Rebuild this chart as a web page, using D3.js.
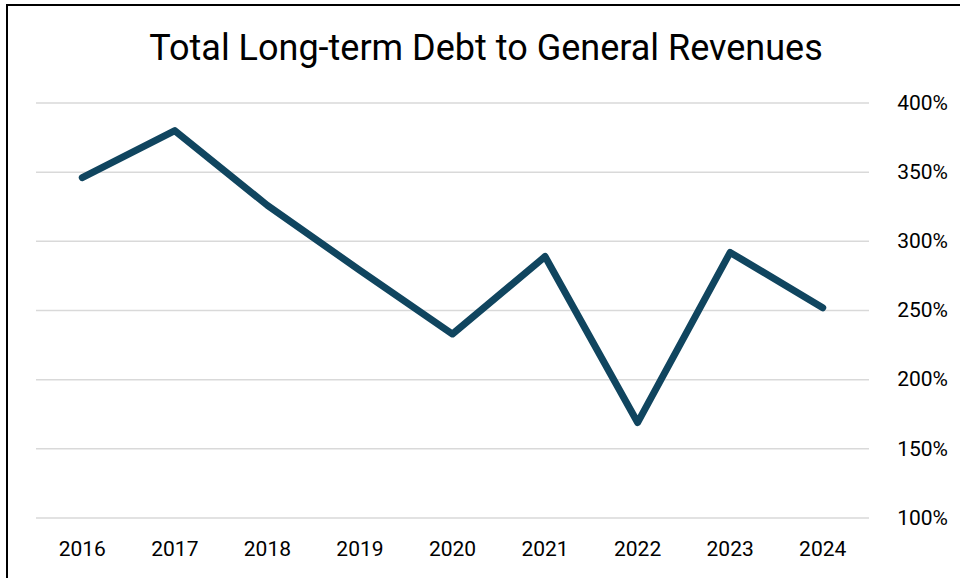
<!DOCTYPE html>
<html>
<head>
<meta charset="utf-8">
<script src="https://cdn.jsdelivr.net/npm/d3@7"></script>
<style>
  body { margin: 0; background: #fff; }
  svg { display: block; font-family: Roboto, "Liberation Sans", sans-serif; }
</style>
</head>
<body>
<div id="main"></div>
<script>
// **** data ****
var years = ["2016", "2017", "2018", "2019", "2020", "2021", "2022", "2023", "2024"];
var debtRatio = [346, 380, 326, 279, 233, 289, 169, 292, 252];
var yTicks = [100, 150, 200, 250, 300, 350, 400];
var chartTitle = "Total Long-term Debt to General Revenues";

var W = 960, H = 578;
var margin = {top: 103, right: 91, bottom: 60, left: 36};

var svg = d3.select("#main")
  .append("svg")
    .attr("width", W)
    .attr("height", H);

// outer chart frame (only left/top edges fall inside the picture)
svg.append("rect")
    .attr("x", 7).attr("y", 5)
    .attr("width", W + 20).attr("height", H + 20)
    .style("fill", "none")
    .style("stroke", "#000")
    .style("stroke-width", 2);

var x = d3.scaleBand()
    .domain(years)
    .range([margin.left, W - margin.right]);

var y = d3.scaleLinear()
    .domain([100, 400])
    .range([518, margin.top]);

// gridlines
svg.append("g")
  .selectAll("line")
  .data(yTicks)
  .enter()
  .append("line")
    .attr("x1", margin.left)
    .attr("x2", W - margin.right)
    .attr("y1", function(d) { return y(d); })
    .attr("y2", function(d) { return y(d); })
    .style("stroke", "#d9d9d9")
    .style("stroke-width", 1.5);

// y labels on the right
var yAxis = svg.append("g")
    .attr("transform", "translate(948,0)")
    .call(d3.axisRight(y).tickValues(yTicks).tickSize(0).tickPadding(0)
      .tickFormat(function(d) { return d + "%"; }));
yAxis.select(".domain").remove();
yAxis.selectAll("text")
    .attr("text-anchor", "end")
    .attr("dy", "0.3em")
    .style("font-size", "21px")
    .style("font-family", "Roboto, 'Liberation Sans', sans-serif")
    .style("fill", "#000");

// x labels
var xAxis = svg.append("g")
    .attr("transform", "translate(0,541)")
    .call(d3.axisBottom(x).tickSize(0).tickPadding(0));
xAxis.select(".domain").remove();
xAxis.selectAll("text")
    .attr("dy", "0.71em")
    .style("font-size", "21px")
    .style("font-family", "Roboto, 'Liberation Sans', sans-serif")
    .style("fill", "#000");

// title
svg.append("text")
    .attr("x", 486)
    .attr("y", 60)
    .attr("text-anchor", "middle")
    .style("font-size", "36px")
    .style("fill", "#000")
    .text(chartTitle);

// the line
var line = d3.line()
    .x(function(d, i) { return x(years[i]) + x.bandwidth() / 2; })
    .y(function(d) { return y(d); });

svg.append("path")
    .datum(debtRatio)
    .attr("d", line)
    .style("fill", "none")
    .style("stroke", "#10455f")
    .style("stroke-width", 7)
    .style("stroke-linejoin", "round")
    .style("stroke-linecap", "round");
</script>
</body>
</html>
